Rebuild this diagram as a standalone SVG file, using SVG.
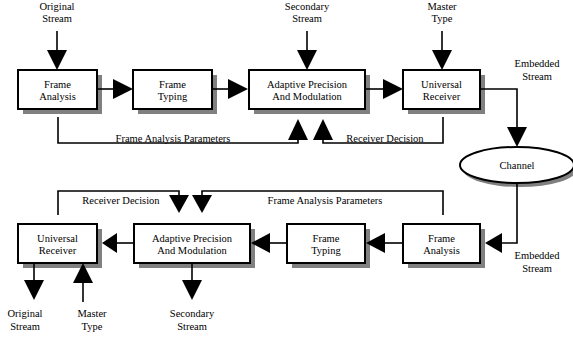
<svg xmlns="http://www.w3.org/2000/svg" width="573" height="339" viewBox="0 0 573 339">
<style>
.box{fill:#fff;stroke:#000;stroke-width:2}
.sh{fill:#808080}
.ln{fill:none;stroke:#000;stroke-width:1.6}
.ah{fill:#000}
text{font-family:"Liberation Serif","Times New Roman",serif;font-size:10.5px;fill:#000;text-anchor:middle}
</style>
<rect width="573" height="339" fill="#fff"/>
<g id="fa1"><rect class="sh" x="23" y="75" width="79" height="39"/><rect class="box" x="18" y="70" width="79" height="39"/><text x="57.5" y="88">Frame</text><text x="57.5" y="100">Analysis</text></g>
<g id="ft1"><rect class="sh" x="138" y="75" width="79" height="39"/><rect class="box" x="133" y="70" width="79" height="39"/><text x="172.5" y="88">Frame</text><text x="172.5" y="100">Typing</text></g>
<g id="ap1"><rect class="sh" x="254" y="75" width="116" height="39"/><rect class="box" x="249" y="70" width="116" height="39"/><text x="307" y="88">Adaptive Precision</text><text x="307" y="100">And Modulation</text></g>
<g id="ur1"><rect class="sh" x="408" y="75" width="77" height="39"/><rect class="box" x="403" y="70" width="77" height="39"/><text x="441.5" y="88">Universal</text><text x="441.5" y="100">Receiver</text></g>
<g id="channel"><ellipse class="sh" cx="520" cy="169" rx="57" ry="18"/><ellipse cx="517" cy="165" rx="57" ry="18" fill="#fff" stroke="#000" stroke-width="2"/><text x="517" y="168.5">Channel</text></g>
<g id="fa2"><rect class="sh" x="408" y="229" width="77" height="39"/><rect class="box" x="403" y="224" width="77" height="39"/><text x="441.5" y="242">Frame</text><text x="441.5" y="254">Analysis</text></g>
<g id="ft2"><rect class="sh" x="292" y="229" width="78" height="39"/><rect class="box" x="287" y="224" width="78" height="39"/><text x="326" y="242">Frame</text><text x="326" y="254">Typing</text></g>
<g id="ap2"><rect class="sh" x="139" y="229" width="116" height="39"/><rect class="box" x="134" y="224" width="116" height="39"/><text x="192" y="242">Adaptive Precision</text><text x="192" y="254">And Modulation</text></g>
<g id="ur2"><rect class="sh" x="23" y="229" width="79" height="39"/><rect class="box" x="18" y="224" width="79" height="39"/><text x="57.5" y="242">Universal</text><text x="57.5" y="254">Receiver</text></g>
<g id="connectors">
<path class="ln" d="M57,31V51"/><polygon class="ah" points="47,50 67,50 57,70"/>
<path class="ln" d="M97,89H114"/><polygon class="ah" points="113,79 113,99 133,89"/>
<path class="ln" d="M212,89H229"/><polygon class="ah" points="228,79 228,99 248,89"/>
<path class="ln" d="M307,31V51"/><polygon class="ah" points="297,50 317,50 307,70"/>
<path class="ln" d="M365,89H384"/><polygon class="ah" points="383,79 383,99 403,89"/>
<path class="ln" d="M442,31V51"/><polygon class="ah" points="432,50 452,50 442,70"/>
<path class="ln" d="M480,89H517V128"/><polygon class="ah" points="507,127 527,127 517,147"/>
<path class="ln" d="M58,117V143H298V139"/><polygon class="ah" points="288,140 308,140 298,119"/>
<path class="ln" d="M443,117V143H323V139"/><polygon class="ah" points="313,140 333,140 323,119"/>
<path class="ln" d="M517,183V243H501"/><polygon class="ah" points="502,233 502,253 485,243"/>
<path class="ln" d="M403,243H384"/><polygon class="ah" points="385,233 385,253 366,243"/>
<path class="ln" d="M287,243H269"/><polygon class="ah" points="270,233 270,253 251,243"/>
<path class="ln" d="M134,243H116"/><polygon class="ah" points="117,233 117,253 102,243"/>
<path class="ln" d="M34,263V281"/><polygon class="ah" points="24,280 44,280 34,300"/>
<path class="ln" d="M83,302V282"/><polygon class="ah" points="73,283 93,283 83,263"/>
<path class="ln" d="M192,263V281"/><polygon class="ah" points="182,280 202,280 192,300"/>
<path class="ln" d="M58,215V191H179V196"/><polygon class="ah" points="169,195 189,195 179,213"/>
<path class="ln" d="M443,215V191H202V196"/><polygon class="ah" points="192,195 212,195 202,213"/>
</g>
<g id="labels">
<text x="57" y="10">Original</text><text x="57" y="22">Stream</text>
<text x="307" y="10">Secondary</text><text x="307" y="22">Stream</text>
<text x="442" y="10">Master</text><text x="442" y="22">Type</text>
<text x="537" y="67">Embedded</text><text x="537" y="79.5">Stream</text>
<text x="173" y="141.5">Frame Analysis Parameters</text>
<text x="385" y="141.5">Receiver Decision</text>
<text x="121" y="204">Receiver Decision</text>
<text x="325" y="204">Frame Analysis Parameters</text>
<text x="537" y="259">Embedded</text><text x="537" y="271.5">Stream</text>
<text x="25" y="317">Original</text><text x="25" y="330">Stream</text>
<text x="92" y="317">Master</text><text x="92" y="330">Type</text>
<text x="192" y="317">Secondary</text><text x="192" y="330">Stream</text>
</g>
</svg>
